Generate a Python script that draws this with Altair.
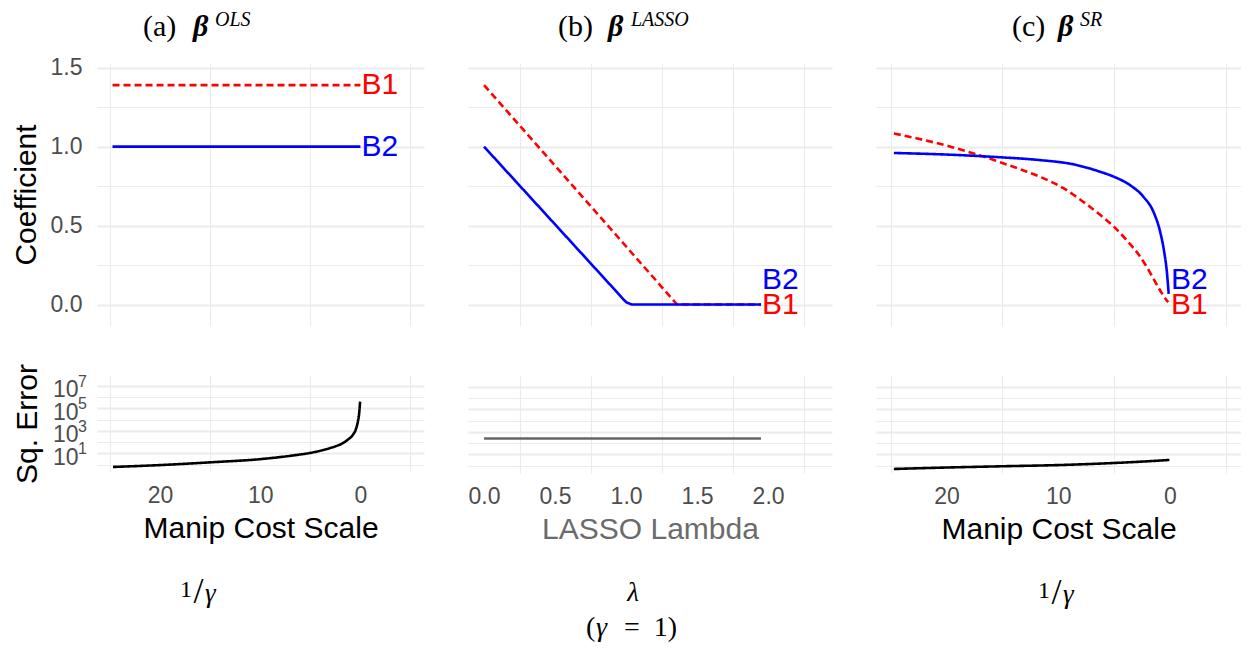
import altair as alt
import pandas as pd

# ---------------- data ----------------
# (a) OLS coefficients vs manipulation cost scale 1/gamma
ols_x = [24.75, 0.0]
ols_b1 = [1.39, 1.39]
ols_b2 = [1.0, 1.0]

# (b) LASSO coefficients vs lambda
lasso_b1_lam = [0.0, 1.36, 1.95]
lasso_b1 = [1.39, 0.0, 0.0]
lasso_b2_lam = [0.0, 1.0, 1.04, 1.95]
lasso_b2 = [1.0, 0.015, 0.0, 0.0]

# (c) SR coefficients vs manipulation cost scale
sr_b1_x = [24.7, 19.64, 15.0, 13.1, 11.3, 9.54, 7.75, 6.25, 5.0, 3.87, 2.82, 2.07, 1.48, 0.88, 0.28, 0.15]
sr_b1 = [1.084, 1.0, 0.897, 0.849, 0.799, 0.737, 0.65, 0.568, 0.492, 0.407, 0.318, 0.237, 0.163, 0.089, 0.025, 0.015]
sr_b2_x = [24.7, 19.64, 15.0, 11.63, 8.64, 6.25, 5.0, 3.57, 2.37, 1.48, 0.88, 0.52, 0.28, 0.12]
sr_b2 = [0.96, 0.949, 0.932, 0.915, 0.888, 0.841, 0.809, 0.756, 0.682, 0.587, 0.46, 0.333, 0.206, 0.068]

# squared errors
ols_err_x = [24.7, 19.9, 15.0, 9.8, 6.5, 5.0, 3.8, 3.1, 2.44, 1.77, 1.2, 0.77, 0.43, 0.26, 0.12, 0.03]
ols_err = [0.617, 0.912, 1.585, 3.16, 6.9, 10.96, 19.0, 28.2, 43.7, 79.4, 178, 417, 1585, 6310, 39800, 398000]
lasso_err_lam = [0.0, 1.95]
lasso_err = [257, 257]
sr_err_x = [24.7, 20.3, 15.0, 9.9, 5.0, 2.4, 0.05]
sr_err = [0.5, 0.66, 0.87, 1.12, 1.7, 2.29, 3.16]

# end-of-line labels
lab_a_x, lab_a_y, lab_a_t = [0.0, 0.0], [1.39, 1.0], ["B1", "B2"]
lab_b_x, lab_b_y, lab_b_t = [1.95, 1.95], [0.0, 0.155], ["B1", "B2"]
lab_c_x, lab_c_y, lab_c_t = [0.0, 0.0], [0.0, 0.155], ["B1", "B2"]

# axis ticks
cost_ticks = [25, 20, 15, 10, 5, 0, -5]
lam_ticks = [0, 0.25, 0.5, 0.75, 1.0, 1.25, 1.5, 1.75, 2.0, 2.25]
coef_ticks = [0, 0.25, 0.5, 0.75, 1.0, 1.25, 1.5]
err_ticks = [1, 10, 100, 1000, 10000, 100000, 1000000, 10000000]
err_label_vals = [10, 1000, 100000, 10000000]
err_label_exps = ["1", "3", "5", "7"]

RED = "#FF0000"
BLUE = "#0000FF"
W_A, W_B, W_C = 327, 364, 365
H_TOP, H_BOT = 263, 97
SERIF = "Liberation Serif"
LABEL_GREY = "#4d4d4d"

# ---------------- scales ----------------
cost_scale = alt.Scale(domain=[-6.35, 26.3], reverse=True, nice=False, zero=False)
lam_scale = alt.Scale(domain=[-0.113, 2.45], nice=False, zero=False)
coef_scale = alt.Scale(domain=[-0.136, 1.53], nice=False, zero=False)
err_scale = alt.Scale(type="log", domain=[0.219, 9.3e7], nice=False)


def cost_axis(labels, title_color="black"):
    kw = dict(values=cost_ticks, gridWidth=1.1, labelOverlap=False, labelFlush=False,
              gridOpacity={"condition": {"test": "datum.value % 10 === 0", "value": 0}, "value": 1})
    if labels:
        kw.update(labelExpr="datum.value % 10 === 0 ? datum.label : ''", format="d",
                  labelPadding=12, titlePadding=6, titleColor=title_color)
    else:
        kw.update(labels=False)
    return alt.Axis(**kw)


def lam_axis(labels, title_color="#6b6b6b"):
    kw = dict(values=lam_ticks, gridWidth=1.1, labelOverlap=False, labelFlush=False,
              gridOpacity={"condition": {"test": "datum.value % 0.5 === 0", "value": 0}, "value": 1})
    if labels:
        kw.update(labelExpr="datum.value % 0.5 === 0 ? datum.label : ''", format=".1f",
                  labelPadding=12, titlePadding=6, titleColor=title_color)
    else:
        kw.update(labels=False)
    return alt.Axis(**kw)


def coef_axis(labels):
    kw = dict(values=coef_ticks, labelOverlap=False, labelFlush=False,
              gridWidth={"condition": {"test": "datum.value % 0.5 === 0", "value": 2.2}, "value": 1.1})
    if labels:
        kw.update(labelExpr="datum.value % 0.5 === 0 ? datum.label : ''", format=".1f",
                  labelPadding=15, titlePadding=9)
    else:
        kw.update(labels=False)
    return alt.Axis(**kw)


MAJOR_ERR = "datum.value == 10 || datum.value == 1000 || datum.value == 100000 || datum.value == 10000000"


def err_axis(labels):
    kw = dict(values=err_ticks, labelOverlap=False, labelFlush=False,
              gridWidth={"condition": {"test": MAJOR_ERR, "value": 2.2}, "value": 1.1})
    if labels:
        kw.update(labelExpr="(" + MAJOR_ERR + ") ? '10' : ''",
                  labelPadding=19, labelOffset=4, titlePadding=10)
    else:
        kw.update(labels=False)
    return alt.Axis(**kw)


def series_lines(xs, ys, color, dashed, xscale, xaxis, yscale, yaxis, width, height,
                 xtitle=None, ytitle=None, interp="linear"):
    df = pd.DataFrame({"x": xs, "y": ys})
    mark = alt.Chart(df).mark_line(color=color, strokeWidth=2.6, interpolate=interp,
                                   strokeDash=[7, 4] if dashed else [1, 0])
    return mark.encode(
        x=alt.X("x:Q", scale=xscale, axis=xaxis, title=xtitle),
        y=alt.Y("y:Q", scale=yscale, axis=yaxis, title=ytitle),
    ).properties(width=width, height=height)


def end_labels(xs, ys, texts, xscale, yscale):
    df = pd.DataFrame({"x": xs, "y": ys, "t": texts})
    return alt.Chart(df).mark_text(align="left", baseline="middle", fontSize=30, dx=1,
                                   font="Liberation Sans").encode(
        x=alt.X("x:Q", scale=xscale),
        y=alt.Y("y:Q", scale=yscale),
        text="t:N",
        color=alt.Color("t:N", scale=alt.Scale(domain=["B1", "B2"], range=[RED, BLUE]), legend=None),
    )


def exponent_labels():
    df = pd.DataFrame({"v": err_label_vals, "e": err_label_exps})
    return alt.Chart(df).mark_text(align="left", baseline="alphabetic", fontSize=16, dy=1,
                                   font="Liberation Sans", color=LABEL_GREY).encode(
        x=alt.value(-19),
        y=alt.Y("v:Q", scale=err_scale),
        text="e:N",
    )


def txt(text, x, y, size, align="left", style="normal", weight="normal"):
    one = pd.DataFrame({"d": [0]})
    return alt.Chart(one).mark_text(text=text, align=align, baseline="alphabetic", fontSize=size, font=SERIF,
                                    fontStyle=style, fontWeight=weight, color="black").encode(
        x=alt.value(x), y=alt.value(y))


def header(letter, sup, x_par, x_beta, x_sup):
    return (txt(letter, x_par, -27, 30)
            + txt("β", x_beta, -27, 30, style="italic", weight="bold")
            + txt(sup, x_sup, -37, 20, style="italic"))


def inv_gamma(xc, yb):
    # "1/γ" in the nicefrac style of the reference
    return (txt("1", xc - 9, yb - 3, 24, align="right")
            + txt("/", xc - 2.5, yb + 3, 36, align="center")
            + txt("γ", xc + 4, yb + 2, 27, style="italic"))


# ---------------- panel (a) ----------------
a_top = alt.layer(
    series_lines(ols_x, ols_b1, RED, True, cost_scale, cost_axis(False), coef_scale, coef_axis(True),
                 W_A, H_TOP, ytitle="Coefficient"),
    series_lines(ols_x, ols_b2, BLUE, False, cost_scale, cost_axis(False), coef_scale, coef_axis(True),
                 W_A, H_TOP, ytitle="Coefficient"),
    end_labels(lab_a_x, lab_a_y, lab_a_t, cost_scale, coef_scale),
    header("(a)", "OLS", 46, 96, 118),
).properties(width=W_A, height=H_TOP)

a_bot = alt.layer(
    series_lines(ols_err_x, ols_err, "black", False, cost_scale, cost_axis(True), err_scale, err_axis(True),
                 W_A, H_BOT, xtitle="Manip Cost Scale", ytitle="Sq. Error", interp="monotone"),
    exponent_labels(),
    inv_gamma(104, 225),
).properties(width=W_A, height=H_BOT)

# ---------------- panel (b) ----------------
b_top = alt.layer(
    series_lines(lasso_b1_lam, lasso_b1, RED, True, lam_scale, lam_axis(False), coef_scale, coef_axis(False),
                 W_B, H_TOP),
    series_lines(lasso_b2_lam, lasso_b2, BLUE, False, lam_scale, lam_axis(False), coef_scale, coef_axis(False),
                 W_B, H_TOP),
    end_labels(lab_b_x, lab_b_y, lab_b_t, lam_scale, coef_scale),
    header("(b)", "LASSO", 90, 140, 163),
).properties(width=W_B, height=H_TOP)

b_bot_line = pd.DataFrame({"x": lasso_err_lam, "y": lasso_err})
b_bot = alt.layer(
    alt.Chart(b_bot_line).mark_line(color="#666666", strokeWidth=2.6).encode(
        x=alt.X("x:Q", scale=lam_scale, axis=lam_axis(True), title="LASSO Lambda"),
        y=alt.Y("y:Q", scale=err_scale, axis=err_axis(False), title=None),
    ),
    txt("λ", 165, 225, 27, align="center", style="italic"),
    txt("(", 118, 260, 28),
    txt("γ", 128, 260, 28, style="italic"),
    txt("= \u00a01)", 156, 260, 28),
).properties(width=W_B, height=H_BOT)

# ---------------- panel (c) ----------------
c_top = alt.layer(
    series_lines(sr_b1_x, sr_b1, RED, True, cost_scale, cost_axis(False), coef_scale, coef_axis(False),
                 W_C, H_TOP, interp="monotone"),
    series_lines(sr_b2_x, sr_b2, BLUE, False, cost_scale, cost_axis(False), coef_scale, coef_axis(False),
                 W_C, H_TOP, interp="monotone"),
    end_labels(lab_c_x, lab_c_y, lab_c_t, cost_scale, coef_scale),
    header("(c)", "SR", 136, 182, 204),
).properties(width=W_C, height=H_TOP)

c_bot = alt.layer(
    series_lines(sr_err_x, sr_err, "black", False, cost_scale, cost_axis(True), err_scale, err_axis(False),
                 W_C, H_BOT, xtitle="Manip Cost Scale", interp="monotone"),
    inv_gamma(183, 225),
).properties(width=W_C, height=H_BOT)

col_a = alt.vconcat(a_top, a_bot, spacing=37)
col_b = alt.vconcat(b_top, b_bot, spacing=50)
col_c = alt.vconcat(c_top, c_bot, spacing=50)

chart = alt.hconcat(col_a, col_b, col_c, spacing=44).properties(
    padding={"left": 3, "top": 2, "right": 0, "bottom": 0}
).configure_view(stroke=None).configure_axis(
    domain=False, ticks=False, tickSize=0, gridColor="#ebebeb",
    labelFont="Liberation Sans", titleFont="Liberation Sans", labelFontSize=23, titleFontSize=30,
    labelColor=LABEL_GREY, titleColor="black", titleFontWeight="normal",
)

chart.save("out.html", embed_options={"renderer": "svg", "actions": False})
